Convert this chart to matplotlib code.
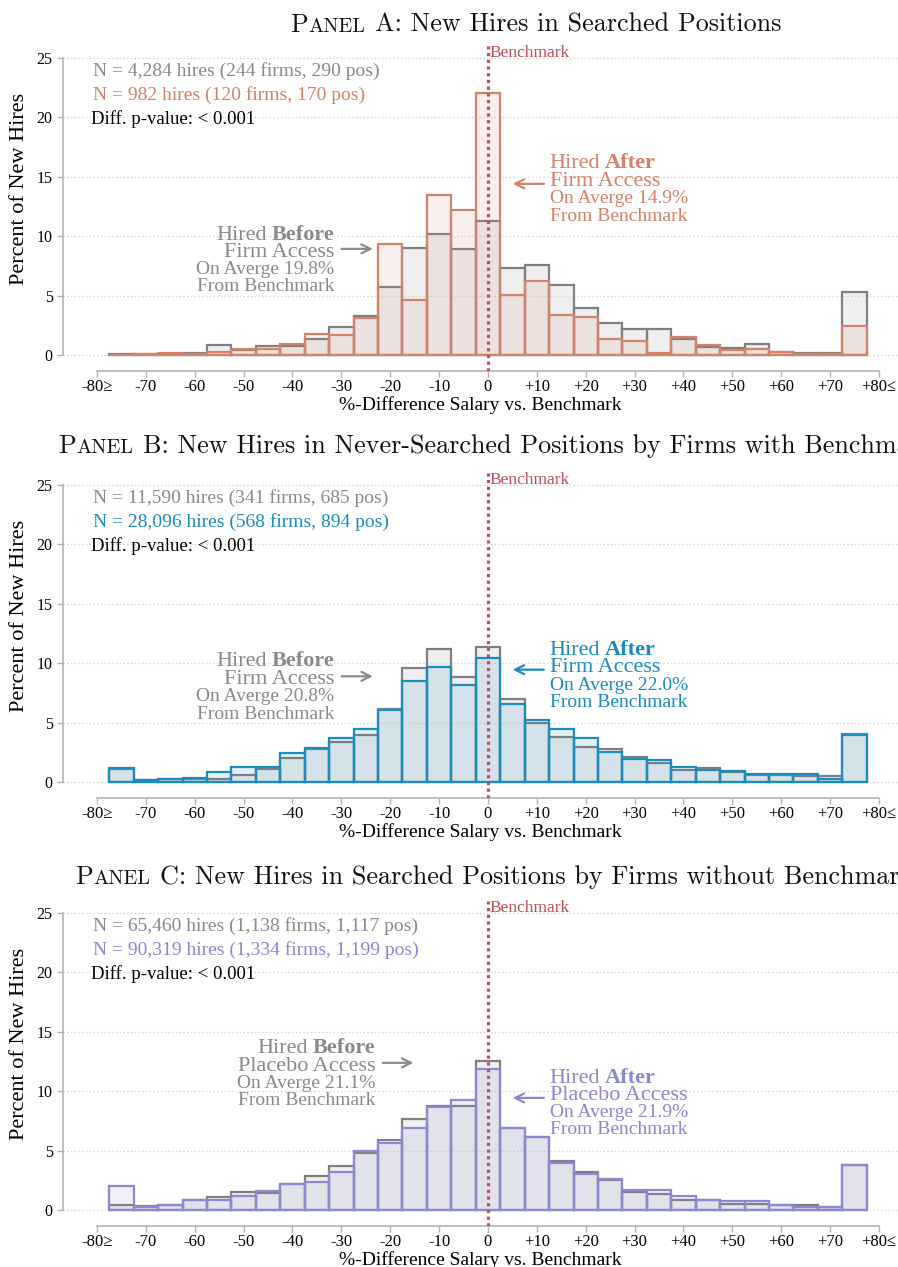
"""
Salary-vs-benchmark histograms for new hires, three panels (before / after access).
"""

import matplotlib
matplotlib.use("Agg")
import matplotlib.pyplot as plt
from matplotlib.colors import to_rgba

W, H = 898, 1267
SERIF = "Liberation Serif"

# ---------------------------------------------------------------------------
# Data (percent of new hires per 5-pt bin of %-difference vs benchmark)
# ---------------------------------------------------------------------------

bin_centers = [-75, -70, -65, -60, -55, -50, -45, -40, -35, -30, -25, -20, -15, -10, -5,
               0, 5, 10, 15, 20, 25, 30, 35, 40, 45, 50, 55, 60, 65, 70, 75]
tick_values = [-80, -70, -60, -50, -40, -30, -20, -10, 0, 10, 20, 30, 40, 50, 60, 70, 80]
tick_labels = ["-80\u2265", "-70", "-60", "-50", "-40", "-30", "-20", "-10", "0",
               "+10", "+20", "+30", "+40", "+50", "+60", "+70", "+80\u2264"]

a_before = [0.1, 0.05, 0.1, 0.2, 0.82, 0.39, 0.76, 0.76, 1.32, 2.39, 3.31, 5.76, 9.04, 10.19, 8.93,
            11.3, 7.3, 7.58, 5.9, 3.93, 2.72, 2.16, 2.22, 1.32, 0.7, 0.59, 0.96, 0.28, 0.15, 0.2, 5.33]
a_after = [0.0, 0.1, 0.15, 0.1, 0.25, 0.53, 0.53, 0.96, 1.77, 1.66, 3.09, 9.3, 4.63, 13.48, 12.2,
           22.05, 5.05, 6.23, 3.37, 3.23, 1.37, 1.18, 0.2, 1.52, 0.84, 0.42, 0.53, 0.25, 0.1, 0.1, 2.44]

b_before = [1.1, 0.15, 0.21, 0.26, 0.26, 0.56, 1.11, 2.0, 2.78, 3.35, 3.94, 6.18, 9.6, 11.22, 8.87,
            11.33, 6.99, 4.97, 3.77, 2.92, 2.81, 2.14, 1.57, 1.0, 1.2, 0.84, 0.6, 0.56, 0.5, 0.47, 4.05]
b_after = [1.16, 0.15, 0.26, 0.34, 0.88, 1.25, 1.25, 2.45, 2.84, 3.68, 4.47, 6.04, 8.5, 9.65, 8.19,
           10.43, 6.54, 5.19, 4.47, 3.68, 2.53, 1.93, 1.87, 1.28, 1.0, 0.91, 0.66, 0.66, 0.66, 0.26, 3.91]

c_before = [0.38, 0.32, 0.38, 0.86, 1.05, 1.5, 1.46, 2.15, 2.83, 3.72, 4.8, 5.86, 7.66, 8.73, 8.73,
            12.52, 6.9, 6.1, 4.12, 3.16, 2.53, 1.55, 1.33, 0.86, 0.8, 0.52, 0.52, 0.38, 0.38, 0.29, 3.8]
c_after = [1.98, 0.25, 0.44, 0.86, 0.86, 1.2, 1.62, 2.21, 2.35, 3.19, 4.99, 5.66, 6.9, 8.67, 9.29,
           11.87, 6.93, 6.14, 3.95, 3.0, 2.62, 1.64, 1.69, 1.18, 0.8, 0.75, 0.72, 0.38, 0.29, 0.29, 3.81]

GRAY_EDGE = "#808080"
GRAY_TEXT = "#8a8a8a"
BENCH = "#c0505f"

panels = [
    {
        "letter": "A", "rest": "New Hires in Searched Positions", "title_xy": (290, 31.7),
        "top": 46, "before": a_before, "after": a_after, "color": "#d4826b",
        "n_before": "N = 4,284 hires (244 firms, 290 pos)",
        "n_after": "N = 982 hires (120 firms, 170 pos)",
        "access": "Firm Access", "avg_before": "19.8%", "avg_after": "14.9%",
        "before_x": -31.5, "before_y": [9.69, 8.28, 6.8, 5.39], "before_arrow": (-30.5, -23.0, 8.93),
        "after_y": [15.73, 14.24, 12.78, 11.31], "after_arrow": (12.0, 4.5, 14.4),
    },
    {
        "letter": "B", "rest": "New Hires in Never-Searched Positions by Firms with Benchmark",
        "title_xy": (58, 453.3),
        "top": 473, "before": b_before, "after": b_after, "color": "#1a8cc0",
        "n_before": "N = 11,590 hires (341 firms, 685 pos)",
        "n_after": "N = 28,096 hires (568 firms, 894 pos)",
        "access": "Firm Access", "avg_before": "20.8%", "avg_after": "22.0%",
        "before_x": -31.5, "before_y": [9.73, 8.25, 6.79, 5.34], "before_arrow": (-30.5, -23.0, 8.89),
        "after_y": [10.66, 9.26, 7.77, 6.32], "after_arrow": (12.0, 4.5, 9.45),
    },
    {
        "letter": "C", "rest": "New Hires in Searched Positions by Firms without Benchmark",
        "title_xy": (75, 884),
        "top": 901, "before": c_before, "after": c_after, "color": "#8c88d2",
        "n_before": "N = 65,460 hires (1,138 firms, 1,117 pos)",
        "n_after": "N = 90,319 hires (1,334 firms, 1,199 pos)",
        "access": "Placebo Access", "avg_before": "21.1%", "avg_after": "21.9%",
        "before_x": -23.1, "before_y": [13.25, 11.7, 10.3, 8.81], "before_arrow": (-22.1, -14.7, 12.38),
        "after_y": [10.69, 9.23, 7.82, 6.42], "after_arrow": (12.0, 4.5, 9.43),
    },
]

XLIM = (-86.96, 83.9)
YLIM = (-1.35, 26.0)


def _fx(px):
    return px / W


def _fy(py):
    return 1 - py / H


def smallcaps_title(fig, x_px, y_px, letter, rest):
    """Draw 'PANEL X: ...' with fake small caps for 'ANEL'."""
    r = fig.canvas.get_renderer()
    x = x_px
    big, small = 18.8, 14.6
    for s, size, gap in [("P", big, 0.5), ("ANEL", small, big * 100 / 72 * 0.36),
                         (f"{letter}: {rest}", big, 0)]:
        t = fig.text(_fx(x), _fy(y_px), s, fontsize=size, family="cmr10",
                     va="baseline", ha="left", color="#111111")
        bb = t.get_window_extent(renderer=r)
        x = bb.x1 + gap


def draw_panel(fig, p):
    top = p["top"]
    ax = fig.add_axes([_fx(63), _fy(top + 325), _fx(898 - 63), 325 / H])
    color = p["color"]

    ax.bar(bin_centers, p["before"], width=5, zorder=2,
           facecolor=(0.78, 0.78, 0.78, 0.27), edgecolor=GRAY_EDGE, linewidth=1.6)
    ax.bar(bin_centers, p["after"], width=5, zorder=3,
           facecolor=to_rgba(color, 0.12), edgecolor=color, linewidth=1.6)

    ax.axvline(0, color=BENCH, linestyle=(0, (1, 1.1)), linewidth=2.3, zorder=4)
    ax.text(0.4, 25.1, "Benchmark", color=BENCH, fontsize=12.5, family=SERIF,
            va="baseline", ha="left")

    ax.set_xlim(*XLIM)
    ax.set_ylim(*YLIM)
    ax.set_yticks([0, 5, 10, 15, 20, 25])
    ax.set_xticks(tick_values)
    ax.set_xticklabels(tick_labels)
    ax.grid(axis="y", linestyle=(0, (1, 2)), color="#cfcfcf", linewidth=0.9, zorder=0)
    ax.set_axisbelow(True)

    for side in ["top", "right"]:
        ax.spines[side].set_visible(False)
    ax.spines["left"].set_bounds(0, 25)
    ax.spines["bottom"].set_bounds(-80, 80)
    for side in ["left", "bottom"]:
        ax.spines[side].set_color("#b4b4b4")
        ax.spines[side].set_linewidth(1.2)
    ax.tick_params(axis="y", direction="out", length=4.5, width=1, color="#b4b4b4",
                   labelsize=11.5, pad=3)
    ax.tick_params(axis="x", direction="out", length=4, width=1, color="#b4b4b4",
                   labelsize=12, pad=2)
    for lab in ax.get_xticklabels() + ax.get_yticklabels():
        lab.set_family(SERIF)

    ax.set_ylabel("Percent of New Hires", fontsize=16, family=SERIF)
    ax.yaxis.set_label_coords(-0.041, 0.56)
    ax.set_xlabel("%-Difference Salary vs. Benchmark", fontsize=14, family=SERIF, labelpad=0.5)

    # sample sizes and p-value
    ax.text(-80.9, 23.45, p["n_before"], color=GRAY_TEXT, fontsize=14, family=SERIF, va="baseline")
    ax.text(-80.9, 21.48, p["n_after"], color=color, fontsize=14, family=SERIF, va="baseline")
    ax.text(-81.3, 19.46, "Diff. p-value: < 0.001", color="black", fontsize=13.5,
            family=SERIF, va="baseline")

    # "Hired Before" block (right aligned)
    bx = p["before_x"]
    by = p["before_y"]
    r = fig.canvas.get_renderer()
    t_bold = ax.text(bx, by[0], "Before", color=GRAY_TEXT, fontsize=16, family=SERIF,
                     weight="bold", ha="right", va="baseline")
    bb = t_bold.get_window_extent(renderer=r)
    inv = ax.transData.inverted()
    x_left = inv.transform((bb.x0 - 4.5, bb.y0))[0]
    ax.text(x_left, by[0], "Hired", color=GRAY_TEXT, fontsize=16, family=SERIF,
            ha="right", va="baseline")
    ax.text(bx, by[1], p["access"], color=GRAY_TEXT, fontsize=16, family=SERIF,
            ha="right", va="baseline")
    ax.text(bx, by[2], f"On Averge {p['avg_before']}", color=GRAY_TEXT, fontsize=14,
            family=SERIF, ha="right", va="baseline")
    ax.text(bx, by[3], "From Benchmark", color=GRAY_TEXT, fontsize=14, family=SERIF,
            ha="right", va="baseline")
    x0, x1, ya = p["before_arrow"]
    ax.annotate("", xy=(x1, ya), xytext=(x0, ya),
                arrowprops=dict(arrowstyle="->", color=GRAY_TEXT, lw=1.6, mutation_scale=16))

    # "Hired After" block (left aligned)
    ay = p["after_y"]
    ax_x = 12.6
    t_h = ax.text(ax_x, ay[0], "Hired", color=color, fontsize=16, family=SERIF,
                  ha="left", va="baseline")
    bb = t_h.get_window_extent(renderer=r)
    x_right = inv.transform((bb.x1 + 4.5, bb.y0))[0]
    ax.text(x_right, ay[0], "After", color=color, fontsize=16, family=SERIF,
            weight="bold", ha="left", va="baseline")
    ax.text(ax_x, ay[1], p["access"], color=color, fontsize=16, family=SERIF,
            ha="left", va="baseline")
    ax.text(ax_x, ay[2], f"On Averge {p['avg_after']}", color=color, fontsize=14,
            family=SERIF, ha="left", va="baseline")
    ax.text(ax_x, ay[3], "From Benchmark", color=color, fontsize=14, family=SERIF,
            ha="left", va="baseline")
    x0, x1, ya = p["after_arrow"]
    ax.annotate("", xy=(x1, ya), xytext=(x0, ya),
                arrowprops=dict(arrowstyle="->", color=color, lw=1.6, mutation_scale=16))

    smallcaps_title(fig, p["title_xy"][0], p["title_xy"][1], p["letter"], p["rest"])
    return ax


fig = plt.figure(figsize=(W / 100, H / 100), dpi=100)
fig.patch.set_facecolor("white")
for p in panels:
    draw_panel(fig, p)

fig.savefig("out.png", dpi=100, facecolor="white")
